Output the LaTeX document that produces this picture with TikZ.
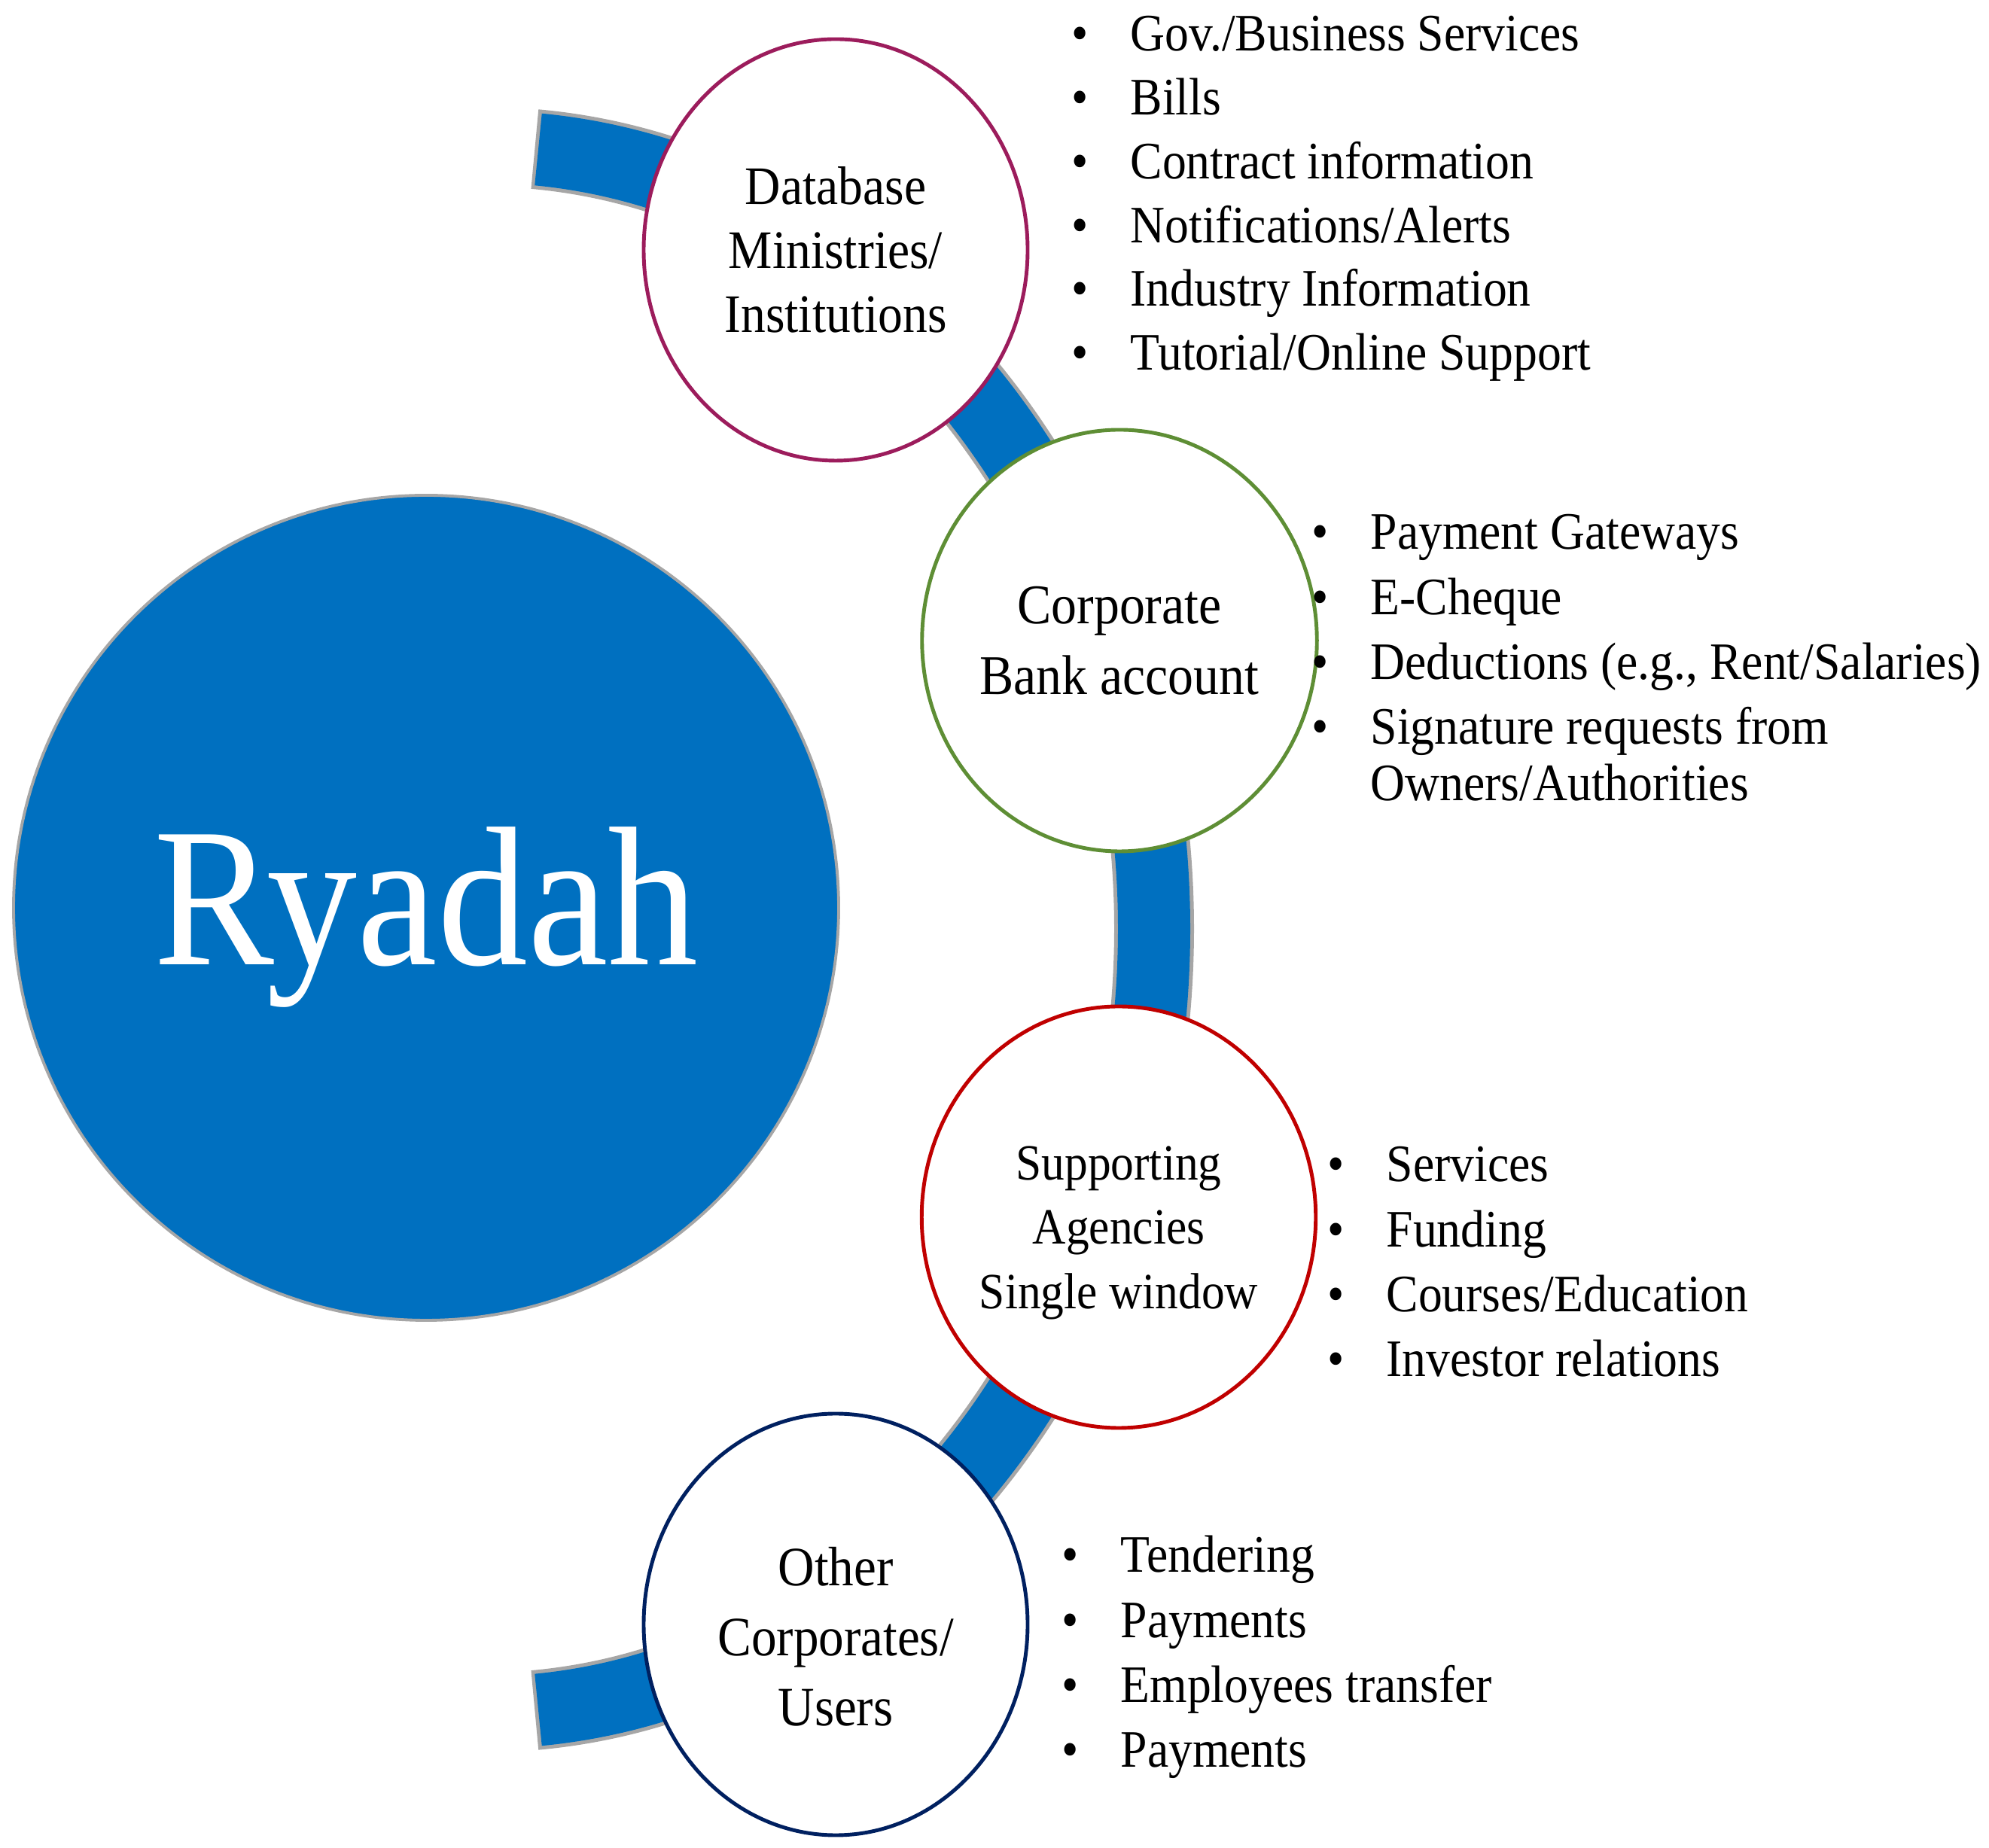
\documentclass[tikz,border=0pt]{standalone}
\usepackage{fontspec}
\setmainfont[FakeStretch=0.91]{Liberation Serif}
\usetikzlibrary{shapes.geometric}

\definecolor{ryblue}{HTML}{0070C0}
\definecolor{rimgray}{HTML}{A6A6A6}
\definecolor{dbrim}{HTML}{9C1C5C}
\definecolor{bankrim}{HTML}{5E8E35}
\definecolor{agencyrim}{HTML}{C00000}
\definecolor{corprim}{HTML}{002060}
\newcommand{\dotitem}{\makebox[0.78cm][l]{\textbullet}}

\begin{document}
\begin{tikzpicture}[
    hub/.style={circle, draw=rimgray, line width=1.1pt, fill=ryblue, minimum size=10.96cm, inner sep=0pt, text=white, font=\fontsize{75}{90}\selectfont, text height=60pt, text depth=16.8pt},
    bubble/.style={ellipse, draw, line width=1.4pt, fill=white, minimum width=5.1cm, minimum height=5.6cm, inner sep=0pt, align=center},
    items/.style={anchor=base west, inner sep=0pt, font=\fontsize{19.9}{24.5}\selectfont},
    band/.style={line width=0.96cm, ryblue},
    bandrim/.style={line width=1.06cm, rimgray}
]
\useasboundingbox (0,0) rectangle (26.42,24.54);

% arc band behind the bubbles
\coordinate (bandc) at (6.42,12.19);
\draw[bandrim] ([shift={(85.6:8.91 and 10.40)}]bandc) arc[start angle=85.6, end angle=-85.6, x radius=8.91, y radius=10.40];
\draw[band]    ([shift={(85.3:8.91 and 10.40)}]bandc) arc[start angle=85.3, end angle=-85.3, x radius=8.91, y radius=10.40];

\node[hub] (ryadah) at (5.66,12.48) {Ryadah};

\node[bubble, draw=dbrim, font=\fontsize{20.5}{24.2}\selectfont]      (db)     at (11.10,21.22) {Database\\Ministries/\\Institutions};
\node[bubble, draw=bankrim, font=\fontsize{21.2}{26.7}\selectfont]    (bank)   at (14.87,16.03) {Corporate\\Bank account};
% strut on the first line pushes the text a little lower
\node[bubble, draw=agencyrim, font=\fontsize{19.2}{24.4}\selectfont]  (agency) at (14.86,8.37)  {\rule{0pt}{24.5pt}Supporting\\Agencies\\Single window};
\node[bubble, draw=corprim, font=\fontsize{21}{26.5}\selectfont]      (corp)   at (11.10,2.96)  {\rule{0pt}{24pt}Other\\Corporates/\\Users};

\node[items, font=\fontsize{19.9}{24.1}\selectfont] (dbitems) at (14.23,23.86) {\begin{tabular}[t]{@{}l@{}}
\dotitem Gov./Business Services\\
\dotitem Bills\\
\dotitem Contract information\\
\dotitem Notifications/Alerts\\
\dotitem Industry Information\\
\dotitem Tutorial/Online Support
\end{tabular}};

\node[items] (bankitems) at (17.42,17.24) {\begin{tabular}[t]{@{}l@{}}
\dotitem Payment Gateways\\
\dotitem E-Cheque\\
\dotitem Deductions (e.g., Rent/Salaries)\\
\dotitem Signature requests from\\[-3.2pt]
\hspace*{0.78cm}Owners/Authorities
\end{tabular}};

\node[items] (agencyitems) at (17.63,8.84) {\begin{tabular}[t]{@{}l@{}}
\dotitem Services\\
\dotitem Funding\\
\dotitem Courses/Education\\
\dotitem Investor relations
\end{tabular}};

\node[items] (corpitems) at (14.10,3.65) {\begin{tabular}[t]{@{}l@{}}
\dotitem Tendering\\
\dotitem Payments\\
\dotitem Employees transfer\\
\dotitem Payments
\end{tabular}};
\end{tikzpicture}
\end{document}
